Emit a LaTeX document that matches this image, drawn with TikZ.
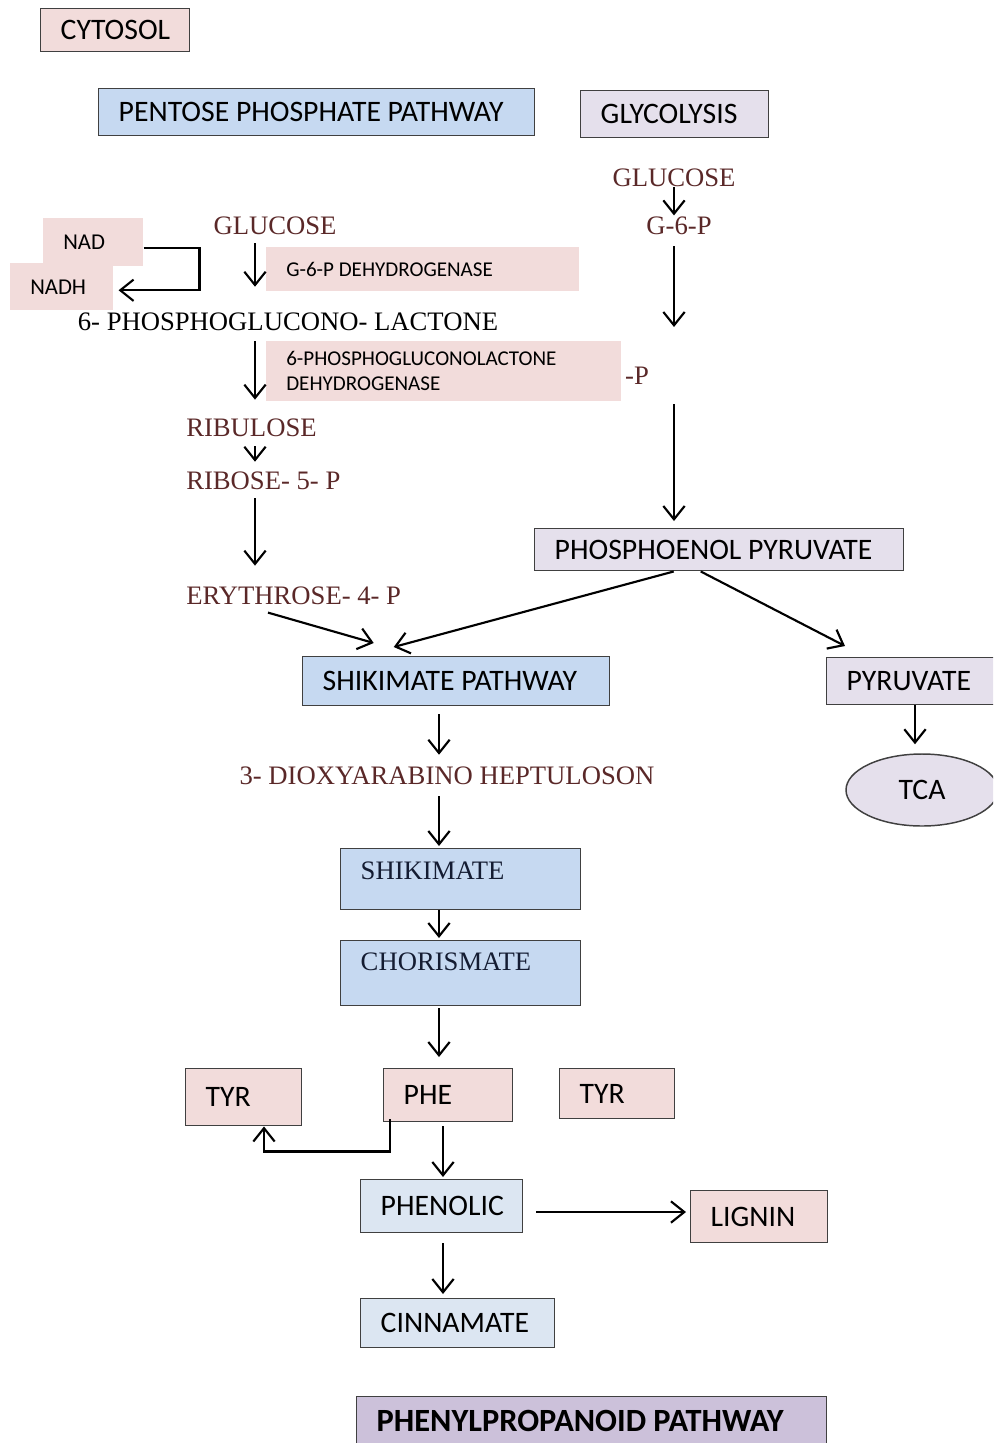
\documentclass[tikz,border=0pt]{standalone}
\usepackage{fontspec}
\setmainfont{Carlito}
\newfontfamily\tnr{Liberation Serif}
\usepackage{xcolor}
\usepackage{tikz}
\usetikzlibrary{arrows.meta,shapes.geometric}
\definecolor{pinkF}{RGB}{242,220,219}
\definecolor{blueF}{RGB}{198,217,241}
\definecolor{paleF}{RGB}{220,230,242}
\definecolor{lavF}{RGB}{229,224,236}
\definecolor{purpF}{RGB}{204,193,218}
\definecolor{bordc}{RGB}{64,64,64}
\definecolor{serifc}{RGB}{90,40,40}
\definecolor{navyc}{RGB}{20,28,50}

\begin{document}
\begin{tikzpicture}[
    x=0.75pt, y=-0.75pt,
    box/.style={draw=bordc, line width=1.1pt, anchor=north west, inner xsep=15pt, inner ysep=0pt, align=justify, font=\fontsize{22.3}{25}\selectfont},
    enz/.style={fill=pinkF, anchor=north west, inner xsep=15pt, inner ysep=0pt, align=justify, font=\fontsize{15.8}{18.75}\selectfont},
    lbl/.style={inner sep=0pt, text height=14pt, text depth=0pt, text=serifc, font=\tnr\fontsize{20}{24}\selectfont},
    serifbox/.style={box, fill=blueF, text=navyc, font=\tnr\fontsize{20}{24}\selectfont},
    arrow/.style={-{Straight Barb[length=10pt,width=16pt]}, line width=1.6pt}
]
    \useasboundingbox (0,0) rectangle (993,1443);
    \clip (0,0) rectangle (993,1443);

    % Nodes
    \node[box, fill=pinkF, text width=81.75pt, minimum height=32.25pt] (cytosol) at (40,8) {CYTOSOL};
    \node[box, fill=blueF, text width=297pt, minimum height=35.25pt] (ppp) at (98,88) {PENTOSE PHOSPHATE PATHWAY};
    \node[box, fill=lavF, text width=111pt, minimum height=35.25pt] (glyco) at (580,90) {GLYCOLYSIS};

    \node[lbl] (glucR) at (674,177) {GLUCOSE};
    \node[lbl] (g6p) at (679,225) {G-6-P};
    \node[lbl] (minusP) at (637,375) {-P};

    \node[enz, font=\fontsize{17}{20}\selectfont, text width=45pt, minimum height=36pt] (nad) at (43,218) {NAD};
    \node[enz, font=\fontsize{17}{20}\selectfont, text width=47.25pt, minimum height=35.25pt] (nadh) at (10,263) {NADH};
    \node[lbl] (glucL) at (275,225) {GLUCOSE};
    \node[enz, text width=204.75pt, minimum height=33pt] (g6pdh) at (266,247) {G-6-P DEHYDROGENASE};
    \node[lbl, text=black] (lact) at (288,321) {6- PHOSPHOGLUCONO- LACTONE};
    \node[enz, text width=236.25pt, minimum height=45pt] (pgldh) at (266,341) {6-PHOSPHOGLUCONOLACTONE\\DEHYDROGENASE};
    \node[lbl, anchor=west] (ribu) at (186,427) {RIBULOSE};
    \node[lbl, anchor=west] (ribo) at (186,480) {RIBOSE- 5- P};
    \node[lbl, anchor=west] (eryth) at (186,595) {ERYTHROSE- 4- P};

    \node[box, fill=lavF, text width=246.75pt, minimum height=31.5pt] (pep) at (534,528) {PHOSPHOENOL PYRUVATE};
    \node[box, fill=blueF, text width=200.25pt, minimum height=36.75pt] (shikpath) at (302,656) {SHIKIMATE PATHWAY};
    \node[box, fill=lavF, text width=120pt, minimum height=35.25pt] (pyru) at (826,657) {PYRUVATE};
    \node[ellipse, draw=bordc, line width=1.1pt, fill=lavF, minimum width=114pt, minimum height=54pt, font=\fontsize{22.3}{25}\selectfont] (tca) at (922,790) {TCA};

    \node[lbl] (dahp) at (447,775) {3- DIOXYARABINO HEPTULOSON};
    \node[serifbox, text width=150pt, text height=23pt, text depth=22.75pt] (shik) at (340,848) {SHIKIMATE};
    \node[serifbox, text width=150pt, text height=22.35pt, text depth=26.4pt] (chor) at (340,940) {CHORISMATE};

    \node[box, fill=pinkF, text width=57pt, minimum height=42.75pt] (tyrL) at (185,1068) {TYR};
    \node[box, fill=pinkF, text width=66.75pt, minimum height=39.75pt] (phe) at (383,1068) {PHE};
    \node[box, fill=pinkF, text width=56.25pt, minimum height=37.5pt] (tyrR) at (559,1068) {TYR};
    \node[box, fill=paleF, text width=91.5pt, minimum height=39.75pt] (phenolic) at (360,1179) {PHENOLIC};
    \node[box, fill=pinkF, text width=72.75pt, minimum height=39pt] (lignin) at (690,1190) {LIGNIN};
    \node[box, fill=paleF, text width=115.5pt, minimum height=36.75pt] (cinn) at (360,1298) {CINNAMATE};
    \node[box, fill=purpF, text width=322.5pt, minimum height=36pt, font=\bfseries\fontsize{24.3}{27}\selectfont] (ppath) at (356,1396) {PHENYLPROPANOID PATHWAY};

    % Arrows
    \coordinate (colL) at (255,0);
    \coordinate (colR) at (674,0);
    \coordinate (colM) at (439,0);
    \coordinate (colP) at (443,0);
    \coordinate (colT) at (915,0);
    \coordinate (rowL) at (0,1212);
    \coordinate (g6pEnd) at (674,327);
    \coordinate (pepStart) at (674,404);

    \draw[arrow] (glucR.south -| colR) -- (g6p.north -| colR);
    \draw[arrow, shorten <=8.8pt] (g6p.south -| colR) -- (g6pEnd);
    \draw[arrow, shorten >=5.25pt] (pepStart) -- (pep.north -| colR);

    \draw[arrow] ([shift={(0,6)}]nad.east) -- ++(56,0) |- ([shift={(5,3.5)}]nadh.east);
    \draw[arrow, shorten <=6.5pt, shorten >=18.5pt] (glucL.south -| colL) -- (lact.north -| colL);
    \draw[arrow, shorten <=8pt, shorten >=13.3pt] (lact.south -| colL) -- (ribu.north -| colL);
    \draw[arrow, shorten <=7.3pt, shorten >=6.5pt] (ribu.south -| colL) -- (ribo.north -| colL);
    \draw[arrow, shorten <=6.5pt, shorten >=14.8pt] (ribo.south -| colL) -- (eryth.north -| colL);

    \draw[arrow] ([shift={(82,8)}]eryth.south west) -- ([shift={(-82.5,-13)}]shikpath.north);
    \draw[arrow] ([shift={(-45.5,0)}]pep.south) -- ([shift={(-62.5,-9)}]shikpath.north);
    \draw[arrow] ([shift={(-18.5,0)}]pep.south) -- ([shift={(19,-11)}]pyru.north west);
    \draw[arrow, shorten >=6.75pt] (pyru.south -| colT) -- (tca.north -| colT);

    \draw[arrow, shorten <=6pt, shorten >=8pt] (shikpath.south -| colM) -- (dahp.north -| colM);
    \draw[arrow, shorten <=8.8pt, shorten >=1.5pt] (dahp.south -| colM) -- (shik.north -| colM);
    \draw[arrow, shorten >=1.5pt] (shik.south -| colM) -- (chor.north -| colM);
    \draw[arrow, shorten <=1.5pt, shorten >=8.25pt] (chor.south -| colM) -- (phe.north -| colM);

    \draw[arrow] ([shift={(7,-3)}]phe.south west) -- ++(0,32) -| ([shift={(79,0)}]tyrL.south west);
    \draw[arrow, shorten <=3pt, shorten >=1.5pt] (phe.south -| colP) -- (phenolic.north -| colP);
    \draw[arrow, shorten <=9.75pt, shorten >=3pt] (phenolic.east |- rowL) -- (lignin.west |- rowL);
    \draw[arrow, shorten <=7.5pt, shorten >=3pt] (phenolic.south -| colP) -- (cinn.north -| colP);
\end{tikzpicture}
\end{document}
